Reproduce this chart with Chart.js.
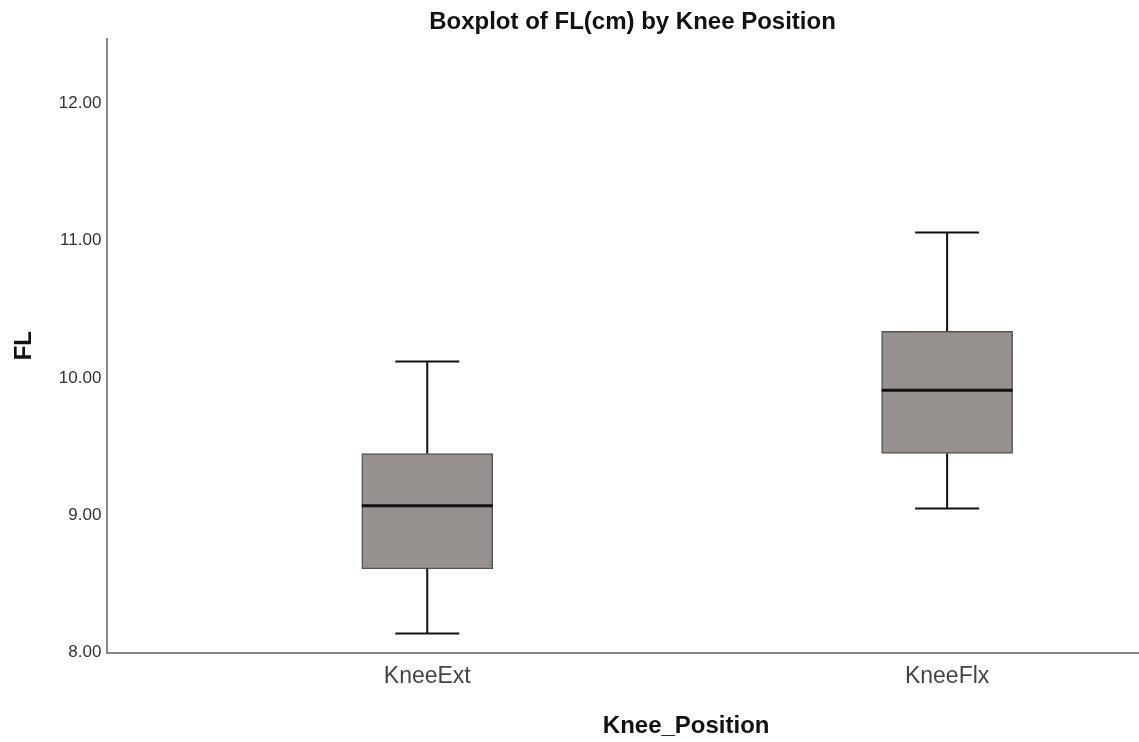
<!DOCTYPE html>
<html>
<head>
<meta charset="utf-8">
<script src="https://cdn.jsdelivr.net/npm/chart.js@4.4.1/dist/chart.umd.min.js"></script>
<style>
  html, body { margin: 0; padding: 0; overflow: hidden; background: #fff; }
</style>
</head>
<body>
<canvas id="box-chart" width="1265" height="742"></canvas>
<script>
// values
var categories = ['KneeExt', 'KneeFlx'];
var positions = [0, 1];
var mins    = [8.14, 9.05];
var q1s     = [8.61, 9.45];
var medians = [9.07, 9.91];
var q3s     = [9.45, 10.34];
var maxs    = [10.12, 11.06];
var yTicks  = [8, 9, 10, 11, 12];

var font = "'Liberation Sans', Arial, sans-serif";
var boxWidth = 131;
var capWidth = 64;

// whiskers + median, drawn with the chart's scales
var whiskerPlugin = {
  id: 'whiskers',
  afterDatasetsDraw: function(chart) {
    var c = chart.ctx, x = chart.scales.x, y = chart.scales.y;
    c.save();
    c.strokeStyle = '#111';
    positions.forEach(function(p, i) {
      var cx = x.getPixelForValue(p);
      var yMax = y.getPixelForValue(maxs[i]);
      var yMin = y.getPixelForValue(mins[i]);
      c.lineWidth = 2;
      c.beginPath();
      c.moveTo(cx, y.getPixelForValue(q3s[i])); c.lineTo(cx, yMax);
      c.moveTo(cx, y.getPixelForValue(q1s[i])); c.lineTo(cx, yMin);
      c.moveTo(cx - capWidth / 2, yMax); c.lineTo(cx + capWidth / 2, yMax);
      c.moveTo(cx - capWidth / 2, yMin); c.lineTo(cx + capWidth / 2, yMin);
      c.stroke();
      var ym = y.getPixelForValue(medians[i]);
      c.lineWidth = 3;
      c.beginPath();
      c.moveTo(cx - boxWidth / 2, ym); c.lineTo(cx + boxWidth / 2, ym);
      c.stroke();
    });
    c.restore();
  }
};

var ctx = document.getElementById('box-chart');
new Chart(ctx, {
  type: 'bar',
  data: {
    datasets: [{
      data: positions.map(function(p, i) { return { x: p, y: [q1s[i], q3s[i]] }; }),
      backgroundColor: '#96918f',
      borderColor: '#555',
      borderWidth: 1.5,
      borderSkipped: false,
      barThickness: boxWidth
    }]
  },
  options: {
    responsive: false,
    animation: false,
    layout: { padding: 0 },
    plugins: {
      legend: { display: false },
      tooltip: { enabled: false },
      title: {
        display: true,
        text: 'Boxplot of FL(cm) by Knee Position',
        color: '#111',
        font: { family: font, size: 24, weight: 'bold' },
        padding: { top: 8, bottom: 2 }
      }
    },
    scales: {
      x: {
        type: 'linear',
        offset: false,
        min: -0.6154,
        max: 1.6115,
        grid: { display: false, drawTicks: false },
        border: { color: '#888', width: 2 },
        afterBuildTicks: function(scale) {
          scale.ticks = positions.map(function(v) { return { value: v }; });
        },
        ticks: {
          color: '#444',
          padding: 10,
          font: { family: font, size: 23 },
          callback: function(value) { return categories[positions.indexOf(value)]; }
        },
        title: {
          display: true,
          text: 'Knee_Position',
          color: '#111',
          font: { family: font, size: 24, weight: 'bold' },
          padding: { top: 12, bottom: 1 }
        }
      },
      y: {
        min: 8,
        max: 12.47,
        grid: { display: false, drawTicks: false },
        border: { color: '#888', width: 2 },
        afterBuildTicks: function(scale) {
          scale.ticks = yTicks.map(function(v) { return { value: v }; });
        },
        ticks: {
          color: '#333',
          padding: 6,
          font: { family: font, size: 17 },
          callback: function(value) { return value.toFixed(2); }
        },
        title: {
          display: true,
          text: 'FL',
          color: '#111',
          font: { family: font, size: 24, weight: 'bold' },
          padding: { top: 10, bottom: 14 }
        }
      }
    }
  },
  plugins: [whiskerPlugin]
});
</script>
</body>
</html>
